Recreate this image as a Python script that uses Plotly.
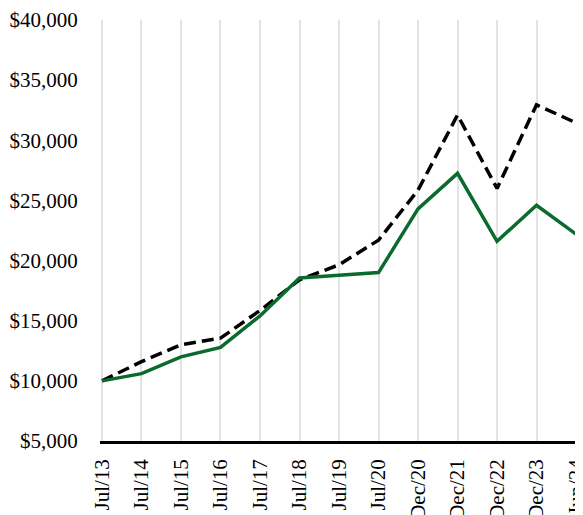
import plotly.graph_objects as go

categories = ["Jul/13", "Jul/14", "Jul/15", "Jul/16", "Jul/17", "Jul/18", "Jul/19",
              "Jul/20", "Dec/20", "Dec/21", "Dec/22", "Dec/23", "Jun/24"]
fund_values = [10000, 10600, 12000, 12780, 15400, 18550, 18780, 19000, 24300, 27250, 21600, 24600, 22200]
index_values = [10000, 11600, 13000, 13550, 15850, 18400, 19650, 21700, 25850, 32100, 26000, 32950, 31450]
y_ticks = [5000, 10000, 15000, 20000, 25000, 30000, 35000, 40000]
y_tick_labels = ["$5,000", "$10,000", "$15,000", "$20,000", "$25,000", "$30,000", "$35,000", "$40,000"]

FONT = "Liberation Serif, Times New Roman, serif"

fig = go.Figure()
fig.add_trace(go.Scatter(
    x=categories, y=index_values, mode="lines", name="Index",
    line=dict(color="#000000", width=3.5, dash="12px,6px"),
))
fig.add_trace(go.Scatter(
    x=categories, y=fund_values, mode="lines", name="Fund",
    line=dict(color="#0b6b2d", width=3.5),
))

fig.update_layout(
    width=575, height=507,
    margin=dict(l=92, r=5, t=12, b=74, autoexpand=False),
    paper_bgcolor="white", plot_bgcolor="white",
    showlegend=False,
    font=dict(family=FONT, size=21, color="#000000"),
)
fig.update_xaxes(
    type="category",
    range=[-0.05, 12.05],
    automargin=False,
    showgrid=True, gridcolor="#e3e3e3", gridwidth=1.5,
    showline=True, linecolor="#000000", linewidth=2.5,
    tickangle=-90,
    ticks="outside", ticklen=7, tickcolor="rgba(0,0,0,0)",
    tickfont=dict(family=FONT, size=21, color="#000000"),
    zeroline=False,
)
fig.update_yaxes(
    range=[5000, 40000],
    automargin=False,
    tickvals=y_ticks, ticktext=y_tick_labels,
    showgrid=False, showline=False, zeroline=False,
    ticks="outside", ticklen=17, tickcolor="rgba(0,0,0,0)",
    tickfont=dict(family=FONT, size=21, color="#000000"),
)

fig.write_html("out.html")
